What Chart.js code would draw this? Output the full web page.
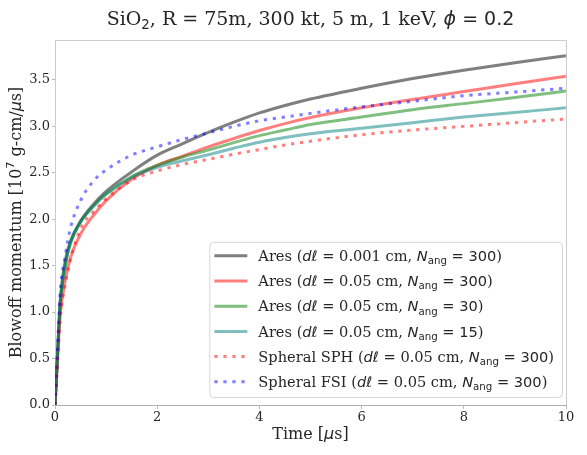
<!DOCTYPE html>
<html>
<head>
<meta charset="utf-8">
<script src="https://cdn.jsdelivr.net/npm/chart.js@4"></script>
<style>
  html, body { margin: 0; padding: 0; background: #fff; }
  #wrap { width: 587px; height: 455px; }
</style>
</head>
<body>
<div id="wrap"><canvas id="blowoffChart" width="587" height="455"></canvas></div>
<script>
// time samples [us] and blowoff momentum [1e7 g-cm/us]
const times = [0, 0.02, 0.05, 0.1, 0.2, 0.3, 0.5, 0.75, 1, 1.5, 2, 2.5, 3, 3.5, 4, 4.5, 5, 6, 7, 8, 9, 10];

const ares001_300 = [0, 0.2, 0.55, 1.1, 1.55, 1.76, 1.98, 2.16, 2.30, 2.51, 2.69, 2.815, 2.935, 3.045, 3.145, 3.225, 3.295, 3.41, 3.515, 3.605, 3.685, 3.76];
const ares05_300  = [0, 0.2, 0.5, 0.95, 1.34, 1.58, 1.84, 2.04, 2.2, 2.43, 2.58, 2.68, 2.78, 2.87, 2.955, 3.03, 3.095, 3.20, 3.29, 3.375, 3.46, 3.54];
const ares05_30   = [0, 0.22, 0.55, 1.08, 1.5, 1.74, 1.97, 2.14, 2.27, 2.46, 2.58, 2.67, 2.745, 2.825, 2.90, 2.96, 3.02, 3.10, 3.18, 3.245, 3.31, 3.38];
const ares05_15   = [0, 0.22, 0.55, 1.08, 1.5, 1.74, 1.97, 2.14, 2.27, 2.45, 2.56, 2.63, 2.695, 2.765, 2.83, 2.88, 2.92, 2.98, 3.04, 3.10, 3.15, 3.20];
const spheralSPH  = [0, 0.18, 0.45, 0.91, 1.3, 1.56, 1.9, 2.08, 2.22, 2.42, 2.52, 2.59, 2.645, 2.70, 2.75, 2.80, 2.84, 2.91, 2.96, 3.00, 3.04, 3.08];
const spheralFSI  = [0, 0.25, 0.62, 1.2, 1.6, 1.9, 2.2, 2.41, 2.53, 2.69, 2.78, 2.86, 2.93, 3.00, 3.06, 3.10, 3.14, 3.21, 3.27, 3.33, 3.37, 3.41];

const yTicks = [0, 0.5, 1.0, 1.5, 2.0, 2.5, 3.0, 3.5];
const xTicks = [0, 2, 4, 6, 8, 10];

const SERIF = "'DejaVu Serif', 'Liberation Serif', serif";
const SANS = "'DejaVu Sans', 'Liberation Sans', sans-serif";

// legend labels as rich text pieces: f = font kind, s = sub/sup
function legendText(dl, n, prefix) {
  return [
    { t: prefix + ' (', f: 'serif' },
    { t: 'dℓ', f: 'isans' },
    { t: ' = ' + dl + ' cm, ', f: 'serif' },
    { t: 'N', f: 'isans' },
    { t: 'ang', f: 'sans', s: 'sub' },
    { t: ' = ' + n, f: 'sans' },
    { t: ')', f: 'serif' }
  ];
}

const series = [
  { data: ares001_300, color: 'rgba(0,0,0,0.5)',     dash: [],       text: legendText('0.001', 300, 'Ares') },
  { data: ares05_300,  color: 'rgba(255,0,0,0.5)',   dash: [],       text: legendText('0.05', 300, 'Ares') },
  { data: ares05_30,   color: 'rgba(0,128,0,0.5)',   dash: [],       text: legendText('0.05', 30, 'Ares') },
  { data: ares05_15,   color: 'rgba(0,128,128,0.5)', dash: [],       text: legendText('0.05', 15, 'Ares') },
  { data: spheralSPH,  color: 'rgba(255,0,0,0.5)',   dash: [3.3, 5.7], text: legendText('0.05', 300, 'Spheral SPH') },
  { data: spheralFSI,  color: 'rgba(0,0,255,0.5)',   dash: [3.3, 5.7], text: legendText('0.05', 300, 'Spheral FSI') }
];

function fontFor(seg, size) {
  const sz = seg.s ? size * 0.7 : size;
  if (seg.f === 'isans') return 'italic ' + sz + 'px ' + SANS;
  if (seg.f === 'sans') return sz + 'px ' + SANS;
  return sz + 'px ' + SERIF;
}

function richWidth(ctx, segs, size) {
  let w = 0;
  segs.forEach(seg => { ctx.font = fontFor(seg, size); w += ctx.measureText(seg.t).width; });
  return w;
}

// draw pieces left to right, vertically centred on y
function drawRich(ctx, segs, x, y, size, align) {
  let cx = x;
  if (align === 'center') cx = x - richWidth(ctx, segs, size) / 2;
  ctx.textBaseline = 'alphabetic';
  ctx.textAlign = 'left';
  const base = y + size * 0.36;
  segs.forEach(seg => {
    ctx.font = fontFor(seg, size);
    let dy = 0;
    if (seg.s === 'sub') dy = size * 0.22;
    if (seg.s === 'sup') dy = -size * 0.42;
    ctx.fillText(seg.t, cx, base + dy);
    cx += ctx.measureText(seg.t).width;
  });
}

const titleText = [
  { t: 'SiO', f: 'serif' }, { t: '2', f: 'sans', s: 'sub' },
  { t: ', R = 75m, 300 kt, 5 m, 1 keV, ', f: 'serif' },
  { t: 'ϕ', f: 'isans' }, { t: ' = 0.2', f: 'sans' }
];
const xLabelText = [{ t: 'Time [', f: 'serif' }, { t: 'μ', f: 'isans' }, { t: 's]', f: 'serif' }];
const yLabelText = [
  { t: 'Blowoff momentum [10', f: 'serif' }, { t: '7', f: 'sans', s: 'sup' },
  { t: ' g-cm/', f: 'serif' }, { t: 'μ', f: 'isans' }, { t: 's]', f: 'serif' }
];

const textPlugin = {
  id: 'richText',
  afterDraw(chart) {
    const ctx = chart.ctx;
    const area = chart.chartArea;
    ctx.save();
    // frame on top and right
    ctx.strokeStyle = '#cccccc';
    ctx.lineWidth = 1;
    ctx.beginPath();
    ctx.moveTo(area.left, area.top + 0.5);
    ctx.lineTo(area.right + 0.5, area.top + 0.5);
    ctx.lineTo(area.right + 0.5, area.bottom);
    ctx.stroke();

    ctx.fillStyle = '#262626';
    drawRich(ctx, titleText, (area.left + area.right) / 2, 18, 19, 'center');
    drawRich(ctx, xLabelText, (area.left + area.right) / 2, 433, 16, 'center');
    ctx.save();
    ctx.translate(15, (area.top + area.bottom) / 2);
    ctx.rotate(-Math.PI / 2);
    drawRich(ctx, yLabelText, 0, 0, 16, 'center');
    ctx.restore();

    // legend box, lower right
    const rowH = 25.2, size = 14.6;
    const textW = Math.max(...series.map(s => richWidth(ctx, s.text, size)));
    const boxW = 49 + textW + 8, boxH = rowH * series.length + 4;
    const bx = area.right - 4 - boxW, by = area.bottom - 8 - boxH;
    ctx.fillStyle = 'rgba(255,255,255,0.85)';
    ctx.strokeStyle = '#d6d6d6';
    ctx.beginPath();
    ctx.roundRect(bx + 0.5, by + 0.5, boxW, boxH, 4);
    ctx.fill();
    ctx.stroke();
    series.forEach((s, i) => {
      const ry = by + 14 + i * rowH;
      ctx.strokeStyle = s.color;
      ctx.lineWidth = 3;
      ctx.setLineDash(s.dash);
      ctx.beginPath();
      ctx.moveTo(bx + 5, ry);
      ctx.lineTo(bx + 38, ry);
      ctx.stroke();
      ctx.setLineDash([]);
      ctx.fillStyle = '#262626';
      drawRich(ctx, s.text, bx + 49, ry, size, 'left');
    });
    ctx.restore();
  }
};

const ctx = document.getElementById('blowoffChart').getContext('2d');
const blowoffChart = new Chart(ctx, {
  type: 'line',
  data: {
    datasets: series.map((s, i) => ({
      label: s.text.map(p => p.t).join(''),
      data: times.map((t, k) => ({ x: t, y: s.data[k] })),
      borderColor: s.color,
      borderWidth: 3,
      borderDash: s.dash,
      pointRadius: 0,
      fill: false,
      cubicInterpolationMode: 'monotone',
      order: series.length - i
    }))
  },
  options: {
    responsive: false,
    animation: false,
    layout: { padding: { top: 40, right: 21, left: 0, bottom: 0 } },
    plugins: { legend: { display: false }, title: { display: false }, tooltip: { enabled: false } },
    scales: {
      x: {
        type: 'linear',
        min: 0,
        max: 10,
        afterFit: scale => { scale.height = 50; },
        afterBuildTicks: scale => { scale.ticks = xTicks.map(v => ({ value: v })); },
        ticks: { font: { family: SERIF, size: 13 }, color: '#262626', padding: 1, maxRotation: 0 },
        grid: { display: true, drawOnChartArea: false, drawTicks: true, tickLength: 4, color: '#bbbbbb' },
        border: { display: true, color: '#b0b0b0' }
      },
      y: {
        type: 'linear',
        min: 0,
        max: 3.93,
        afterFit: scale => { scale.width = 55; },
        afterBuildTicks: scale => { scale.ticks = yTicks.map(v => ({ value: v })); },
        ticks: { font: { family: SERIF, size: 13 }, color: '#262626', padding: 2, callback: v => v.toFixed(1) },
        grid: { display: true, drawOnChartArea: false, drawTicks: true, tickLength: 3, color: '#bbbbbb' },
        border: { display: true, color: '#cccccc' }
      }
    }
  },
  plugins: [textPlugin]
});
</script>
</body>
</html>
